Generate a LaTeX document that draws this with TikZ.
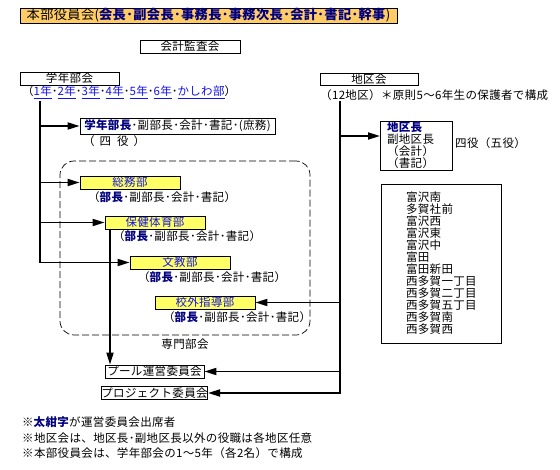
\documentclass[tikz,border=0pt]{standalone}
\usepackage{fontspec}
\setmainfont[LetterSpace=3]{Noto Sans CJK JP}
\usetikzlibrary{arrows.meta}
\definecolor{navy}{RGB}{0,0,128}
\definecolor{lblue}{RGB}{20,20,230}
\definecolor{boxyellow}{RGB}{255,255,102}
\definecolor{titleorange}{RGB}{255,204,102}
\newcommand{\navytxt}[1]{\textcolor{navy}{\textbf{#1}}}
\newcommand{\yrlink}[1]{\textcolor{lblue}{\underline{#1}}}
\begin{document}
\begin{tikzpicture}[x=1pt,y=-1pt,
  every node/.style={font=\fontsize{11.5}{12}\selectfont, inner sep=0pt},
  bx/.style={draw, line width=0.8pt, minimum height=13pt},
  ybx/.style={bx, fill=boxyellow, minimum width=100pt, text=lblue},
  conn/.style={line width=1.8pt},
  arr/.style={conn, -{Triangle[length=12pt,width=7pt]}},
  lbl/.style={anchor=west},
]
\useasboundingbox[fill=white] (0,0) rectangle (560,470);
% title
\node[bx, fill=titleorange, minimum width=377pt, minimum height=15pt,
  font=\fontsize{13.2}{14}\selectfont] (title) at (208.5,15.5)
  {本部役員会(\navytxt{会長･副会長･事務長･事務次長･会計･書記･幹事})};
\node[bx, minimum width=100pt] (kansa) at (190,46.5) {会計監査会};
% left side
\node[bx, minimum width=99pt] (gakunen) at (69.5,78.5) {学年部会};
\node[lbl] (years) at (22,92) {（\yrlink{1年}･\yrlink{2年}･\yrlink{3年}･\yrlink{4年}･\yrlink{5年}･\yrlink{6年}･\yrlink{かしわ部}）};
\node[bx, minimum width=195pt, minimum height=16pt] (gbucho) at (177.5,126)
  {\navytxt{学年部長}･副部長･会計･書記･(庶務)};
\node[lbl] (yonyaku) at (83,141) {（\hspace{5pt}四\hspace{6pt}役\hspace{5pt}）};
\node[draw, dashed, dash pattern=on 7pt off 3pt, line width=0.7pt, rounded corners=14pt,
  minimum width=250pt, minimum height=174pt] (senmon) at (185,248) {};
\node[below=3pt] (senmonlbl) at (senmon.south) {専門部会};
\node[ybx] (soumu) at (130,182.5) {総務部};
\node[lbl] (soumusub) at (88,197) {（\navytxt{部長}･副部長･会計･書記）};
\node[ybx] (hoken) at (155,222.5) {保健体育部};
\node[lbl] (hokensub) at (113,236) {（\navytxt{部長}･副部長･会計･書記）};
\node[ybx] (bunkyo) at (180,262.5) {文教部};
\node[lbl] (bunkyosub) at (138,277) {（\navytxt{部長}･副部長･会計･書記）};
\node[ybx] (kougai) at (205,302.5) {校外指導部};
\node[lbl] (kougaisub) at (163,317) {（\navytxt{部長}･副部長･会計･書記）};
\node[bx, minimum width=99pt] (pool) at (154.5,371.5) {プール運営委員会};
\node[bx, minimum width=99pt] (project) at (154.5,393) {プロジェクト委員会};
% right side
\node[bx, minimum width=98pt, minimum height=12pt] (chiku) at (369,79) {地区会};
\node[lbl] (chikusub) at (320,95) {（12地区）＊原則5～6年生の保護者で構成};
\node[bx, minimum width=72pt, minimum height=49pt, align=left, text width=58pt]
  (chikucho) at (416,145.5) {\navytxt{地区長}\\副地区長\\（会計）\\（書記）};
\node[lbl] (yonyaku2) at (455,143) {四役（五役）};
\node[bx, minimum width=120pt, minimum height=159pt, align=left, text width=70pt]
  (list) at (441,263.5) {富沢南\\多賀社前\\富沢西\\富沢東\\富沢中\\富田\\富田新田\\西多賀一丁目\\西多賀二丁目\\西多賀五丁目\\西多賀南\\西多賀西};
% notes
\node[lbl] (n1) at (22,422) {※\navytxt{太紺字}が運営委員会出席者};
\node[lbl] (n2) at (22,438) {※地区会は、地区長･副地区長以外の役職は各地区任意};
\node[lbl] (n3) at (22,453) {※本部役員会は、学年部会の1～5年（各2名）で構成};
% connectors left
\coordinate (lt) at (40,101);
\draw[arr] (lt) |- (bunkyo.west);
\draw[arr] (lt |- gbucho.west) -- (gbucho.west);
\draw[arr] (lt |- soumu.west) -- (soumu.west);
\draw[arr] (lt |- hoken.west) -- (hoken.west);
\coordinate (pdrop) at (110,0);
\draw[arr] (hoken.south -| pdrop) -- (pool.north -| pdrop);
% connectors right
\coordinate (rt) at (340,101);
\coordinate (chin) at (380,136);
\draw[arr] (rt) |- (project.east);
\draw[arr] (rt |- chin) -- (chin);
\draw[arr] (rt |- kougai.east) -- (kougai.east);
\draw[arr] (rt |- pool.east) -- (pool.east);
\end{tikzpicture}
\end{document}
